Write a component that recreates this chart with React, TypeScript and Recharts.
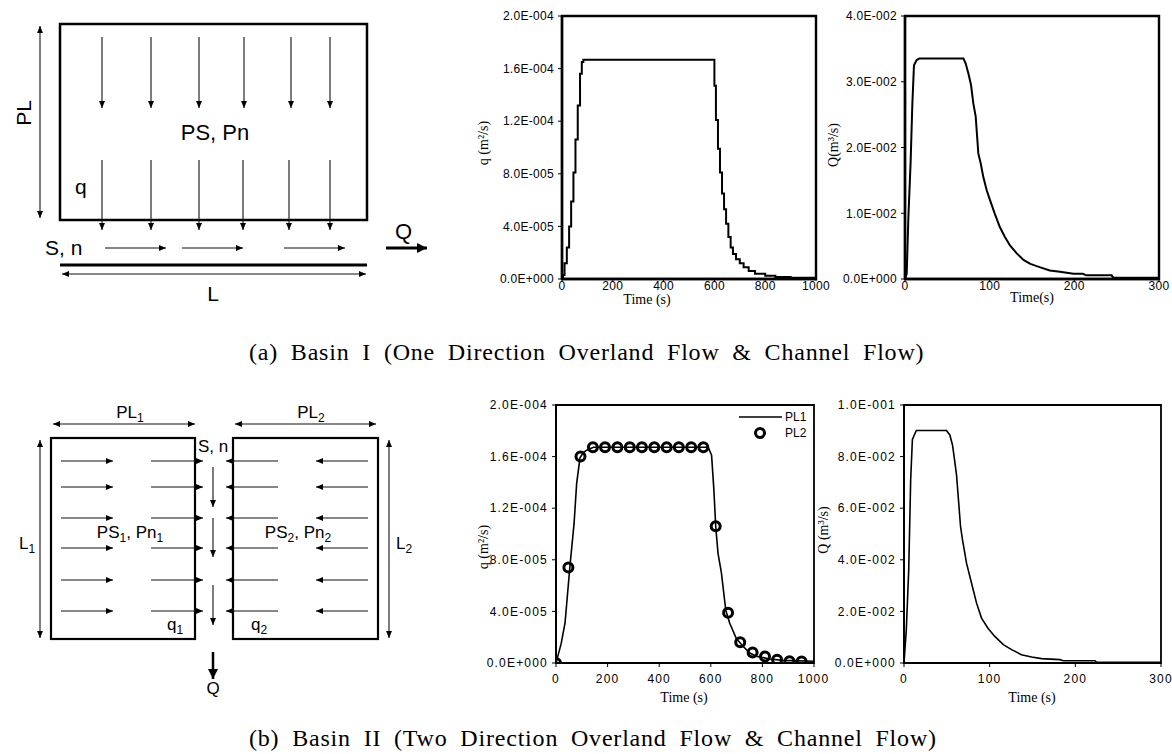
import React from 'react';
import { LineChart, Line, XAxis, YAxis, ReferenceArea } from 'recharts';

const SANS = '"Liberation Sans", Arial, Helvetica, sans-serif';
const SERIF = '"Liberation Serif", "Times New Roman", serif';

// Basin I: unit-width overland flow q (stepped model output)
const q1Time = [0, 4, 10, 19, 28, 36, 45, 53, 62, 71, 78, 84, 600, 606, 614, 622, 630, 638, 646, 655, 664, 673, 685, 700, 715, 735, 760, 800, 840, 900, 1000];
const q1Flow = [0, 3e-6, 1.2e-5, 2.4e-5, 4.0e-5, 5.9e-5, 8.1e-5, 1.06e-4, 1.32e-4, 1.56e-4, 1.65e-4, 1.667e-4, 1.47e-4, 1.21e-4, 9.9e-5, 8.1e-5, 6.5e-5, 5.3e-5, 4.2e-5, 3.2e-5, 2.4e-5, 1.9e-5, 1.5e-5, 1.2e-5, 9e-6, 6e-6, 4e-6, 2.5e-6, 1.5e-6, 1e-6, 1e-6];

// Basin I: channel outflow Q
const Q1Time = [0, 2, 4, 6.7, 8.7, 10.6, 13.8, 17, 69, 71.6, 74.8, 78, 80.7, 83.5, 86.6, 89.4, 92.5, 96.5, 100.4, 106, 112, 118, 124, 132, 140, 148, 159, 171, 183, 199, 210, 214, 244, 246, 300];
const Q1Flow = [0, 0.0008, 0.0094, 0.018, 0.0267, 0.0325, 0.0333, 0.03355, 0.03355, 0.0328, 0.0313, 0.0295, 0.0267, 0.0247, 0.0191, 0.0176, 0.0155, 0.0135, 0.012, 0.00995, 0.0079, 0.0064, 0.0051, 0.0039, 0.0029, 0.0023, 0.0018, 0.0013, 0.0011, 0.0008, 0.0008, 0.00056, 0.00056, 0.0002, 0.0002];

// Basin II: overland flow from each plane
const pl1Time = [0, 20, 35, 54, 70, 80, 93, 105, 119, 145, 590, 603, 612, 619, 628, 641, 658, 673, 699, 725, 751, 777, 828, 880, 1000];
const pl1Flow = [0, 1.5e-5, 3.1e-5, 7.5e-5, 1.08e-4, 1.39e-4, 1.59e-4, 1.63e-4, 1.65e-4, 1.672e-4, 1.672e-4, 1.61e-4, 1.34e-4, 1.06e-4, 8.5e-5, 7.0e-5, 4.1e-5, 3.1e-5, 1.9e-5, 1.3e-5, 7.7e-6, 5.2e-6, 3.1e-6, 2e-6, 1.3e-6];
const pl2Time = [0, 48, 95, 143, 190, 238, 286, 333, 381, 429, 476, 524, 571, 619, 667, 714, 762, 810, 857, 905, 952];
const pl2Flow = [0, 7.4e-5, 1.6e-4, 1.672e-4, 1.672e-4, 1.672e-4, 1.672e-4, 1.672e-4, 1.672e-4, 1.672e-4, 1.672e-4, 1.672e-4, 1.672e-4, 1.06e-4, 3.9e-5, 1.6e-5, 8.2e-6, 5e-6, 2.6e-6, 1.4e-6, 1.2e-6];

// Basin II: channel outflow Q
const Q2Time = [0, 2.7, 5.5, 7.8, 9.8, 14.4, 49.6, 53.5, 56.6, 58.5, 61.3, 63.6, 66, 68.3, 73, 78.8, 84.7, 90.5, 98, 106, 116, 125.6, 137, 149, 160.7, 182, 186, 223, 225, 300];
const Q2Flow = [0, 0.0129, 0.036, 0.071, 0.0867, 0.0901, 0.0901, 0.0884, 0.0845, 0.08, 0.0729, 0.0632, 0.0529, 0.0477, 0.0387, 0.031, 0.0232, 0.0174, 0.0135, 0.0103, 0.0071, 0.0052, 0.0032, 0.0023, 0.0017, 0.0013, 0.0009, 0.0009, 0.0003, 0.0003];

const timeTicks1000 = [0, 200, 400, 600, 800, 1000];
const timeTicks300 = [0, 100, 200, 300];
const qTicks = [0, 4e-5, 8e-5, 1.2e-4, 1.6e-4, 2e-4];
const Q1Ticks = [0, 0.01, 0.02, 0.03, 0.04];
const Q2Ticks = [0, 0.02, 0.04, 0.06, 0.08, 0.1];

const toRows = (ts: number[], vs: number[]) => ts.map((t, i) => ({ t, v: vs[i] }));

const sci = (v: number) => {
  if (v === 0) return '0.0E+000';
  const [m, e] = v.toExponential(1).split('e');
  const n = parseInt(e, 10);
  return `${m}E${n < 0 ? '-' : '+'}${String(Math.abs(n)).padStart(3, '0')}`;
};

type PanelProps = {
  left: number; top: number;
  yw: number; plotW: number; plotH: number; mt: number; mr: number; xh: number;
  xMax: number; xTicks: number[]; yMax: number; yTicks: number[];
  xLabel: string; xLabelX: number; xLabelY: number;
  yLabel: string; yLabelX: number; yLabelY: number;
  frame: number; spacing: number; xTickSize: number; xTickGap: number;
  children?: React.ReactNode;
};

function Panel(p: PanelProps) {
  const width = p.yw + p.plotW + p.mr;
  const height = p.mt + p.plotH + p.xh + 6;
  const tick = { fontSize: 12, fill: '#000', fontFamily: SANS, letterSpacing: p.spacing };
  return (
    <div style={{ position: 'absolute', left: p.left, top: p.top }}>
      <LineChart width={width} height={height} margin={{ top: p.mt, right: p.mr, bottom: 6, left: 0 }}>
        <XAxis
          type="number" dataKey="t" domain={[0, p.xMax]} ticks={p.xTicks} allowDataOverflow
          height={p.xh} tick={tick} tickSize={p.xTickSize} tickMargin={p.xTickGap}
          axisLine={{ stroke: '#000', strokeWidth: p.frame }} tickLine={{ stroke: '#000' }}
          label={{
            content: () => (
              <text x={p.xLabelX} y={p.xLabelY} textAnchor="middle" fontFamily={SERIF} fontSize={14} fill="#000">
                {p.xLabel}
              </text>
            ),
          }}
        />
        <YAxis
          type="number" domain={[0, p.yMax]} ticks={p.yTicks} allowDataOverflow tickFormatter={sci}
          width={p.yw} tick={tick} tickSize={4} tickMargin={4}
          axisLine={{ stroke: '#000', strokeWidth: p.frame }} tickLine={{ stroke: '#000' }}
          label={{
            content: () => (
              <text transform={`translate(${p.yLabelX},${p.yLabelY}) rotate(-90)`} textAnchor="middle" fontFamily={SERIF} fontSize={14} fill="#000">
                {p.yLabel}
              </text>
            ),
          }}
        />
        <ReferenceArea x1={0} x2={p.xMax} y1={0} y2={p.yMax} fill="none" stroke="#000" strokeWidth={p.frame} ifOverflow="visible" />
        {p.children}
      </LineChart>
    </div>
  );
}

function Sketches() {
  const down = [102, 151, 199, 244, 291, 330];
  const downLow = [102, 151, 199, 243, 289, 330];
  const rows = [461, 487, 518, 548, 580, 611];
  const thin = { stroke: '#111', strokeWidth: 1.1 };
  const caption = { fontFamily: SERIF, fontSize: 24, style: { wordSpacing: 6, letterSpacing: 0.8 } };
  return (
    <svg width={1172} height={754} style={{ position: 'absolute', left: 0, top: 0 }}>
      <defs>
        <marker id="hd" viewBox="0 0 7 6" refX="7" refY="3" markerWidth="7" markerHeight="6" markerUnits="userSpaceOnUse" orient="auto-start-reverse">
          <path d="M0,0 L7,3 L0,6 z" fill="#000" />
        </marker>
        <marker id="hdBig" viewBox="0 0 10 10" refX="10" refY="5" markerWidth="11" markerHeight="10" markerUnits="userSpaceOnUse" orient="auto">
          <path d="M0,0 L10,5 L0,10 z" fill="#000" />
        </marker>
      </defs>

      {/* Basin I */}
      <rect x={60} y={24} width={307} height={196} fill="none" stroke="#000" strokeWidth={2.5} />
      <line x1={40} y1={26} x2={40} y2={218} {...thin} markerStart="url(#hd)" markerEnd="url(#hd)" />
      <text transform="translate(31,113) rotate(-90)" textAnchor="middle" fontFamily={SANS} fontSize={21}>PL</text>
      {down.map((x) => (
        <line key={'u' + x} x1={x} y1={37} x2={x} y2={108} {...thin} markerEnd="url(#hd)" />
      ))}
      {downLow.map((x) => (
        <line key={'l' + x} x1={x} y1={160} x2={x} y2={230} {...thin} markerEnd="url(#hd)" />
      ))}
      <text x={215} y={140} textAnchor="middle" fontFamily={SANS} fontSize={22}>PS, Pn</text>
      <text x={75} y={194} fontFamily={SANS} fontSize={21}>q</text>
      <text x={45} y={255} fontFamily={SANS} fontSize={21}>S, n</text>
      {[[105, 166], [182, 243], [284, 345]].map(([a, b]) => (
        <line key={'h' + a} x1={a} y1={248} x2={b} y2={248} {...thin} markerEnd="url(#hd)" />
      ))}
      <line x1={386} y1={248} x2={427} y2={248} stroke="#000" strokeWidth={3} markerEnd="url(#hdBig)" />
      <text x={395} y={239} fontFamily={SANS} fontSize={22}>Q</text>
      <line x1={60} y1={265} x2={367} y2={265} stroke="#000" strokeWidth={3} />
      <line x1={62} y1={274} x2={366} y2={274} {...thin} markerStart="url(#hd)" markerEnd="url(#hd)" />
      <text x={213} y={301} textAnchor="middle" fontFamily={SANS} fontSize={21}>L</text>

      {/* Basin II */}
      <rect x={51} y={438} width={144} height={201} fill="none" stroke="#000" strokeWidth={2.2} />
      <rect x={233} y={438} width={145} height={201} fill="none" stroke="#000" strokeWidth={2.2} />
      <line x1={53} y1={424} x2={195} y2={424} {...thin} markerStart="url(#hd)" markerEnd="url(#hd)" />
      <line x1={235} y1={424} x2={376} y2={424} {...thin} markerStart="url(#hd)" markerEnd="url(#hd)" />
      <text x={130} y={418} textAnchor="middle" fontFamily={SANS} fontSize={17}>PL<tspan dy={4} fontSize={12}>1</tspan></text>
      <text x={311} y={418} textAnchor="middle" fontFamily={SANS} fontSize={17}>PL<tspan dy={4} fontSize={12}>2</tspan></text>
      <line x1={40} y1={440} x2={40} y2={638} {...thin} markerStart="url(#hd)" markerEnd="url(#hd)" />
      <line x1={389} y1={440} x2={389} y2={638} {...thin} markerStart="url(#hd)" markerEnd="url(#hd)" />
      <text x={19} y={549} fontFamily={SANS} fontSize={17}>L<tspan dy={4} fontSize={12}>1</tspan></text>
      <text x={396} y={549} fontFamily={SANS} fontSize={17}>L<tspan dy={4} fontSize={12}>2</tspan></text>
      {rows.map((y) => (
        <g key={'r' + y}>
          <line x1={61} y1={y} x2={113} y2={y} {...thin} markerEnd="url(#hd)" />
          <line x1={151} y1={y} x2={203} y2={y} {...thin} markerEnd="url(#hd)" />
          <line x1={278} y1={y} x2={226} y2={y} {...thin} markerEnd="url(#hd)" />
          <line x1={368} y1={y} x2={316} y2={y} {...thin} markerEnd="url(#hd)" />
        </g>
      ))}
      {[[467, 507], [518, 557], [585, 625]].map(([a, b]) => (
        <line key={'c' + a} x1={213} y1={a} x2={213} y2={b} {...thin} markerEnd="url(#hd)" />
      ))}
      <line x1={213} y1={652} x2={213} y2={679} stroke="#000" strokeWidth={2.5} markerEnd="url(#hdBig)" />
      <text x={213} y={694} textAnchor="middle" fontFamily={SANS} fontSize={17}>Q</text>
      <text x={198} y={452} fontFamily={SANS} fontSize={17}>S, n</text>
      <text x={130} y={538} textAnchor="middle" fontFamily={SANS} fontSize={17}>
        PS<tspan dy={4} fontSize={12}>1</tspan><tspan dy={-4}>, Pn</tspan><tspan dy={4} fontSize={12}>1</tspan>
      </text>
      <text x={298} y={538} textAnchor="middle" fontFamily={SANS} fontSize={17}>
        PS<tspan dy={4} fontSize={12}>2</tspan><tspan dy={-4}>, Pn</tspan><tspan dy={4} fontSize={12}>2</tspan>
      </text>
      <text x={167} y={630} fontFamily={SANS} fontSize={17}>q<tspan dy={4} fontSize={12}>1</tspan></text>
      <text x={251} y={630} fontFamily={SANS} fontSize={17}>q<tspan dy={4} fontSize={12}>2</tspan></text>

      {/* captions */}
      <text x={249} y={360} {...caption}>
        {'(a) Basin I (One Direction Overland Flow & Channel Flow)'}
      </text>
      <text x={249} y={746} {...caption}>
        {'(b) Basin II (Two Direction Overland Flow & Channel Flow)'}
      </text>

      {/* legend of Basin II q panel */}
      <line x1={739} y1={417} x2={782} y2={417} stroke="#000" strokeWidth={1.6} />
      <text x={785} y={421} fontFamily={SANS} fontSize={12}>PL1</text>
      <circle cx={760} cy={433} r={4.5} fill="none" stroke="#000" strokeWidth={3} />
      <text x={785} y={437} fontFamily={SANS} fontSize={12}>PL2</text>
    </svg>
  );
}

export default function App() {
  return (
    <div style={{ position: 'absolute', left: 0, top: 0, width: 1172, height: 754, background: '#fff', overflow: 'hidden' }}>
      <Sketches />
      <Panel
        left={470} top={0} yw={92} plotW={254} plotH={263} mt={16} mr={16} xh={30}
        xMax={1000} xTicks={timeTicks1000} yMax={2e-4} yTicks={qTicks}
        xLabel="Time (s)" xLabelX={177} xLabelY={304}
        yLabel="q (m²/s)" yLabelX={17.5} yLabelY={143}
        frame={2.4} spacing={0.3} xTickSize={2} xTickGap={0}
      >
        <Line data={toRows(q1Time, q1Flow)} dataKey="v" type="stepAfter" stroke="#000" strokeWidth={2} dot={false} activeDot={false} isAnimationActive={false} />
      </Panel>
      <Panel
        left={820} top={0} yw={85} plotW={254} plotH={263} mt={16} mr={13} xh={30}
        xMax={300} xTicks={timeTicks300} yMax={0.04} yTicks={Q1Ticks}
        xLabel="Time(s)" xLabelX={212} xLabelY={302}
        yLabel="Q(m³/s)" yLabelX={17.5} yLabelY={145}
        frame={2.4} spacing={0.3} xTickSize={2} xTickGap={0}
      >
        <Line data={toRows(Q1Time, Q1Flow)} dataKey="v" type="linear" stroke="#000" strokeWidth={2} dot={false} activeDot={false} isAnimationActive={false} />
      </Panel>
      <Panel
        left={462} top={389} yw={94} plotW={258} plotH={258} mt={16} mr={14} xh={40}
        xMax={1000} xTicks={timeTicks1000} yMax={2e-4} yTicks={qTicks}
        xLabel="Time (s)" xLabelX={222} xLabelY={313}
        yLabel="q (m²/s)" yLabelX={25.5} yLabelY={158}
        frame={1.8} spacing={1.2} xTickSize={4} xTickGap={7}
      >
        <Line data={toRows(pl2Time, pl2Flow)} dataKey="v" name="PL2" stroke="none" dot={{ r: 4.5, fill: 'none', stroke: '#000', strokeWidth: 3 }} activeDot={false} isAnimationActive={false} />
        <Line data={toRows(pl1Time, pl1Flow)} dataKey="v" name="PL1" type="linear" stroke="#000" strokeWidth={1.6} dot={false} activeDot={false} isAnimationActive={false} />
      </Panel>
      <Panel
        left={812} top={389} yw={92} plotW={257} plotH={258} mt={16} mr={11} xh={40}
        xMax={300} xTicks={timeTicks300} yMax={0.1} yTicks={Q2Ticks}
        xLabel="Time (s)" xLabelX={220} xLabelY={313}
        yLabel="Q (m³/s)" yLabelX={15.5} yLabelY={141}
        frame={1.8} spacing={1.2} xTickSize={4} xTickGap={7}
      >
        <Line data={toRows(Q2Time, Q2Flow)} dataKey="v" type="linear" stroke="#000" strokeWidth={1.6} dot={false} activeDot={false} isAnimationActive={false} />
      </Panel>
    </div>
  );
}
